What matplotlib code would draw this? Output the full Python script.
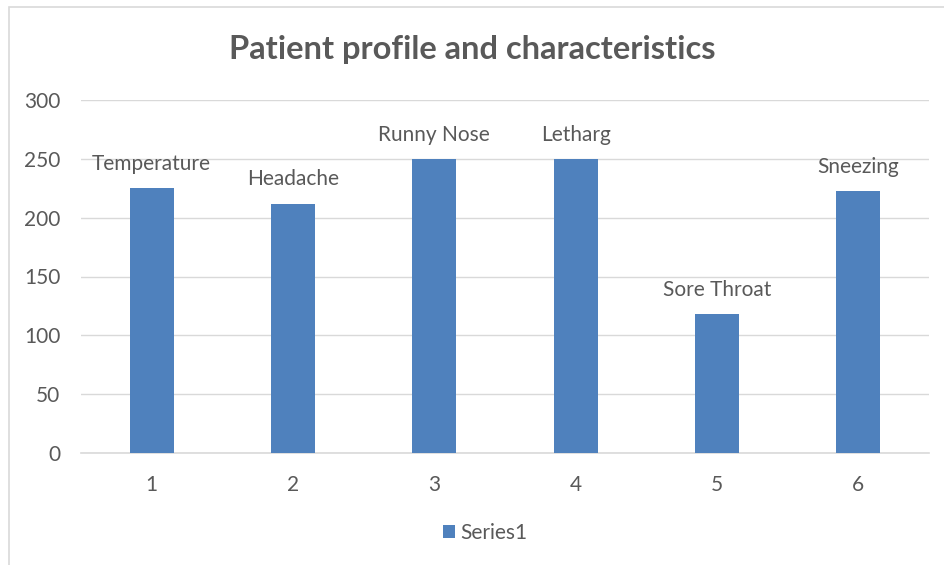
import matplotlib
matplotlib.use("Agg")
import matplotlib.pyplot as plt
from matplotlib.patches import Rectangle

categories = ["1", "2", "3", "4", "5", "6"]
values = [225, 212, 250, 250, 118, 223]
labels = ["Temperature", "Headache", "Runny Nose", "Letharg", "Sore Throat", "Sneezing"]
yticks = [0, 50, 100, 150, 200, 250, 300]

plt.rcParams['font.family'] = ['Lato', 'DejaVu Sans']
text_color = "#595959"
bar_color = "#4F81BD"
grid_color = "#D9D9D9"

fig = plt.figure(figsize=(9.45, 5.65), dpi=100)
W, H = 945, 565
ax = fig.add_axes([81 / W, 1 - 453 / H, (929 - 81) / W, (453 - 100) / H])

x = list(range(len(categories)))
bars = ax.bar(x, values, width=0.31, color=bar_color, zorder=3, label="Series1")
ax.set_xlim(-0.5, len(categories) - 0.5)
ax.set_ylim(0, 300)
ax.set_yticks(yticks)
ax.set_xticks(x)
ax.set_xticklabels(categories)
ax.grid(axis='y', color=grid_color, linewidth=1, zorder=0)
for s in ["top", "right", "left"]:
    ax.spines[s].set_visible(False)
ax.spines["bottom"].set_color(grid_color)
ax.spines["bottom"].set_linewidth(1.2)
ax.tick_params(axis='both', length=0, labelsize=15, colors=text_color)
ax.tick_params(axis='y', pad=15)
ax.tick_params(axis='x', pad=16)

for xi, v, lab in zip(x, values, labels):
    ax.annotate(lab, (xi, v), xytext=(0, 13), textcoords='offset points',
                ha='center', va='baseline', fontsize=15, color=text_color, zorder=4)

fig.text(0.5, 1 - 50 / H, "Patient profile and characteristics", ha='center', va='center',
         fontsize=23.5, fontweight='bold', color=text_color)

leg = fig.legend(handles=[bars], labels=["Series1"], loc='center', bbox_to_anchor=(485 / W, 1 - 533 / H),
                 frameon=False, fontsize=15, handlelength=0.6, handleheight=0.6, handletextpad=0.25)
for t in leg.get_texts():
    t.set_color(text_color)

fig.patches.append(Rectangle((9 / W, -0.1), 1.2, 1 - 7 / H + 0.1, transform=fig.transFigure,
                             fill=False, edgecolor="#D9D9D9", linewidth=1.2))

fig.savefig("out.png", dpi=100)
